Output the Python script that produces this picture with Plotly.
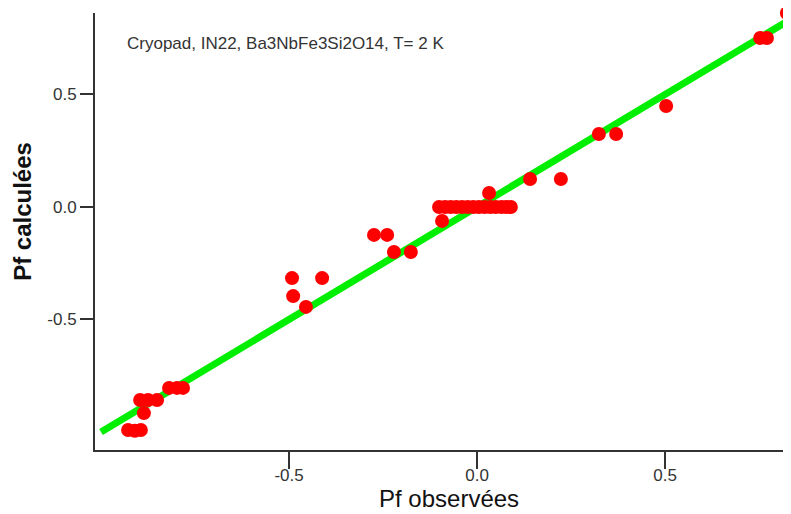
import plotly.graph_objects as go

PF_OBS = [-0.928, -0.910, -0.894, -0.886, -0.896, -0.875, -0.851,
          -0.819, -0.798, -0.782,
          -0.492, -0.489, -0.455, -0.412,
          -0.274, -0.239, -0.221, -0.176, -0.093,
          -0.101, -0.085, -0.070, -0.055, -0.040, -0.025, -0.010, 0.005,
          0.020, 0.035, 0.050, 0.065, 0.078, 0.090,
          0.032, 0.141, 0.223, 0.324, 0.370, 0.503, 0.753, 0.771, 0.824]
PF_CALC = [-0.991, -0.995, -0.991, -0.916, -0.858, -0.858, -0.858,
           -0.804, -0.804, -0.804,
           -0.316, -0.396, -0.444, -0.316,
           -0.124, -0.124, -0.200, -0.200, -0.062,
           0.0, 0.0, 0.0, 0.0, 0.0, 0.0, 0.0, 0.0,
           0.0, 0.0, 0.0, 0.0, 0.0, 0.0,
           0.062, 0.124, 0.124, 0.324, 0.324, 0.449, 0.751, 0.751, 0.862]

# ideal y = x line
LINE_X = [-1.0, 0.9]

TICKS = [-0.5, 0.0, 0.5]
TICK_TEXT = ['-0.5', '0.0', '0.5']
FONT = 'Liberation Sans, Arial, sans-serif'
AXIS = '#333333'

fig = go.Figure()
fig.add_trace(go.Scatter(
    x=LINE_X, y=LINE_X, mode='lines',
    line=dict(color='#00ee00', width=7),
    showlegend=False, hoverinfo='skip',
))
fig.add_trace(go.Scatter(
    x=PF_OBS, y=PF_CALC, mode='markers',
    marker=dict(color='#ff0000', size=14, line=dict(width=0)),
    cliponaxis=False, showlegend=False,
))

fig.update_xaxes(range=[-1.016, 0.835], tickvals=TICKS, ticktext=TICK_TEXT,
                 showgrid=False, zeroline=False, showline=True,
                 linecolor=AXIS, linewidth=2, ticks='outside', ticklen=17,
                 ticklabelstandoff=-8,
                 tickcolor=AXIS, tickwidth=1.5,
                 tickfont=dict(family=FONT, size=17, color='#333'))
fig.update_yaxes(range=[-1.080, 0.862], tickvals=TICKS, ticktext=TICK_TEXT,
                 showgrid=False, zeroline=False, showline=True,
                 linecolor=AXIS, linewidth=2, ticks='outside', ticklen=13,
                 tickcolor=AXIS, tickwidth=1.5,
                 tickfont=dict(family=FONT, size=17, color='#333'))

# axis titles as annotations so they sit exactly where the reference has them
fig.add_annotation(text='Pf observées', xref='paper', yref='paper',
                   x=0.5086, y=-0.112, xanchor='center', yanchor='middle',
                   showarrow=False,
                   font=dict(family=FONT, size=24, color='#111'))
fig.add_annotation(text='<b>Pf calculées</b>', xref='paper', yref='paper',
                   x=-0.1034, y=0.545, xanchor='center', yanchor='middle',
                   textangle=-90, showarrow=False,
                   font=dict(family=FONT, size=24, color='#111'))

fig.add_annotation(text='Cryopad, IN22, Ba3NbFe3Si2O14, T= 2 K',
                   xref='paper', yref='paper', x=0.043, y=0.930,
                   xanchor='left', yanchor='middle', showarrow=False,
                   font=dict(family=FONT, size=17, color='#333'))

# page body adds an 8px margin, so the figure is sized/offset to compensate
fig.update_layout(
    width=783, height=506,
    margin=dict(l=87, r=0, t=5, b=64),
    paper_bgcolor='white', plot_bgcolor='white',
    font=dict(family=FONT),
)

fig.write_html('out.html')
